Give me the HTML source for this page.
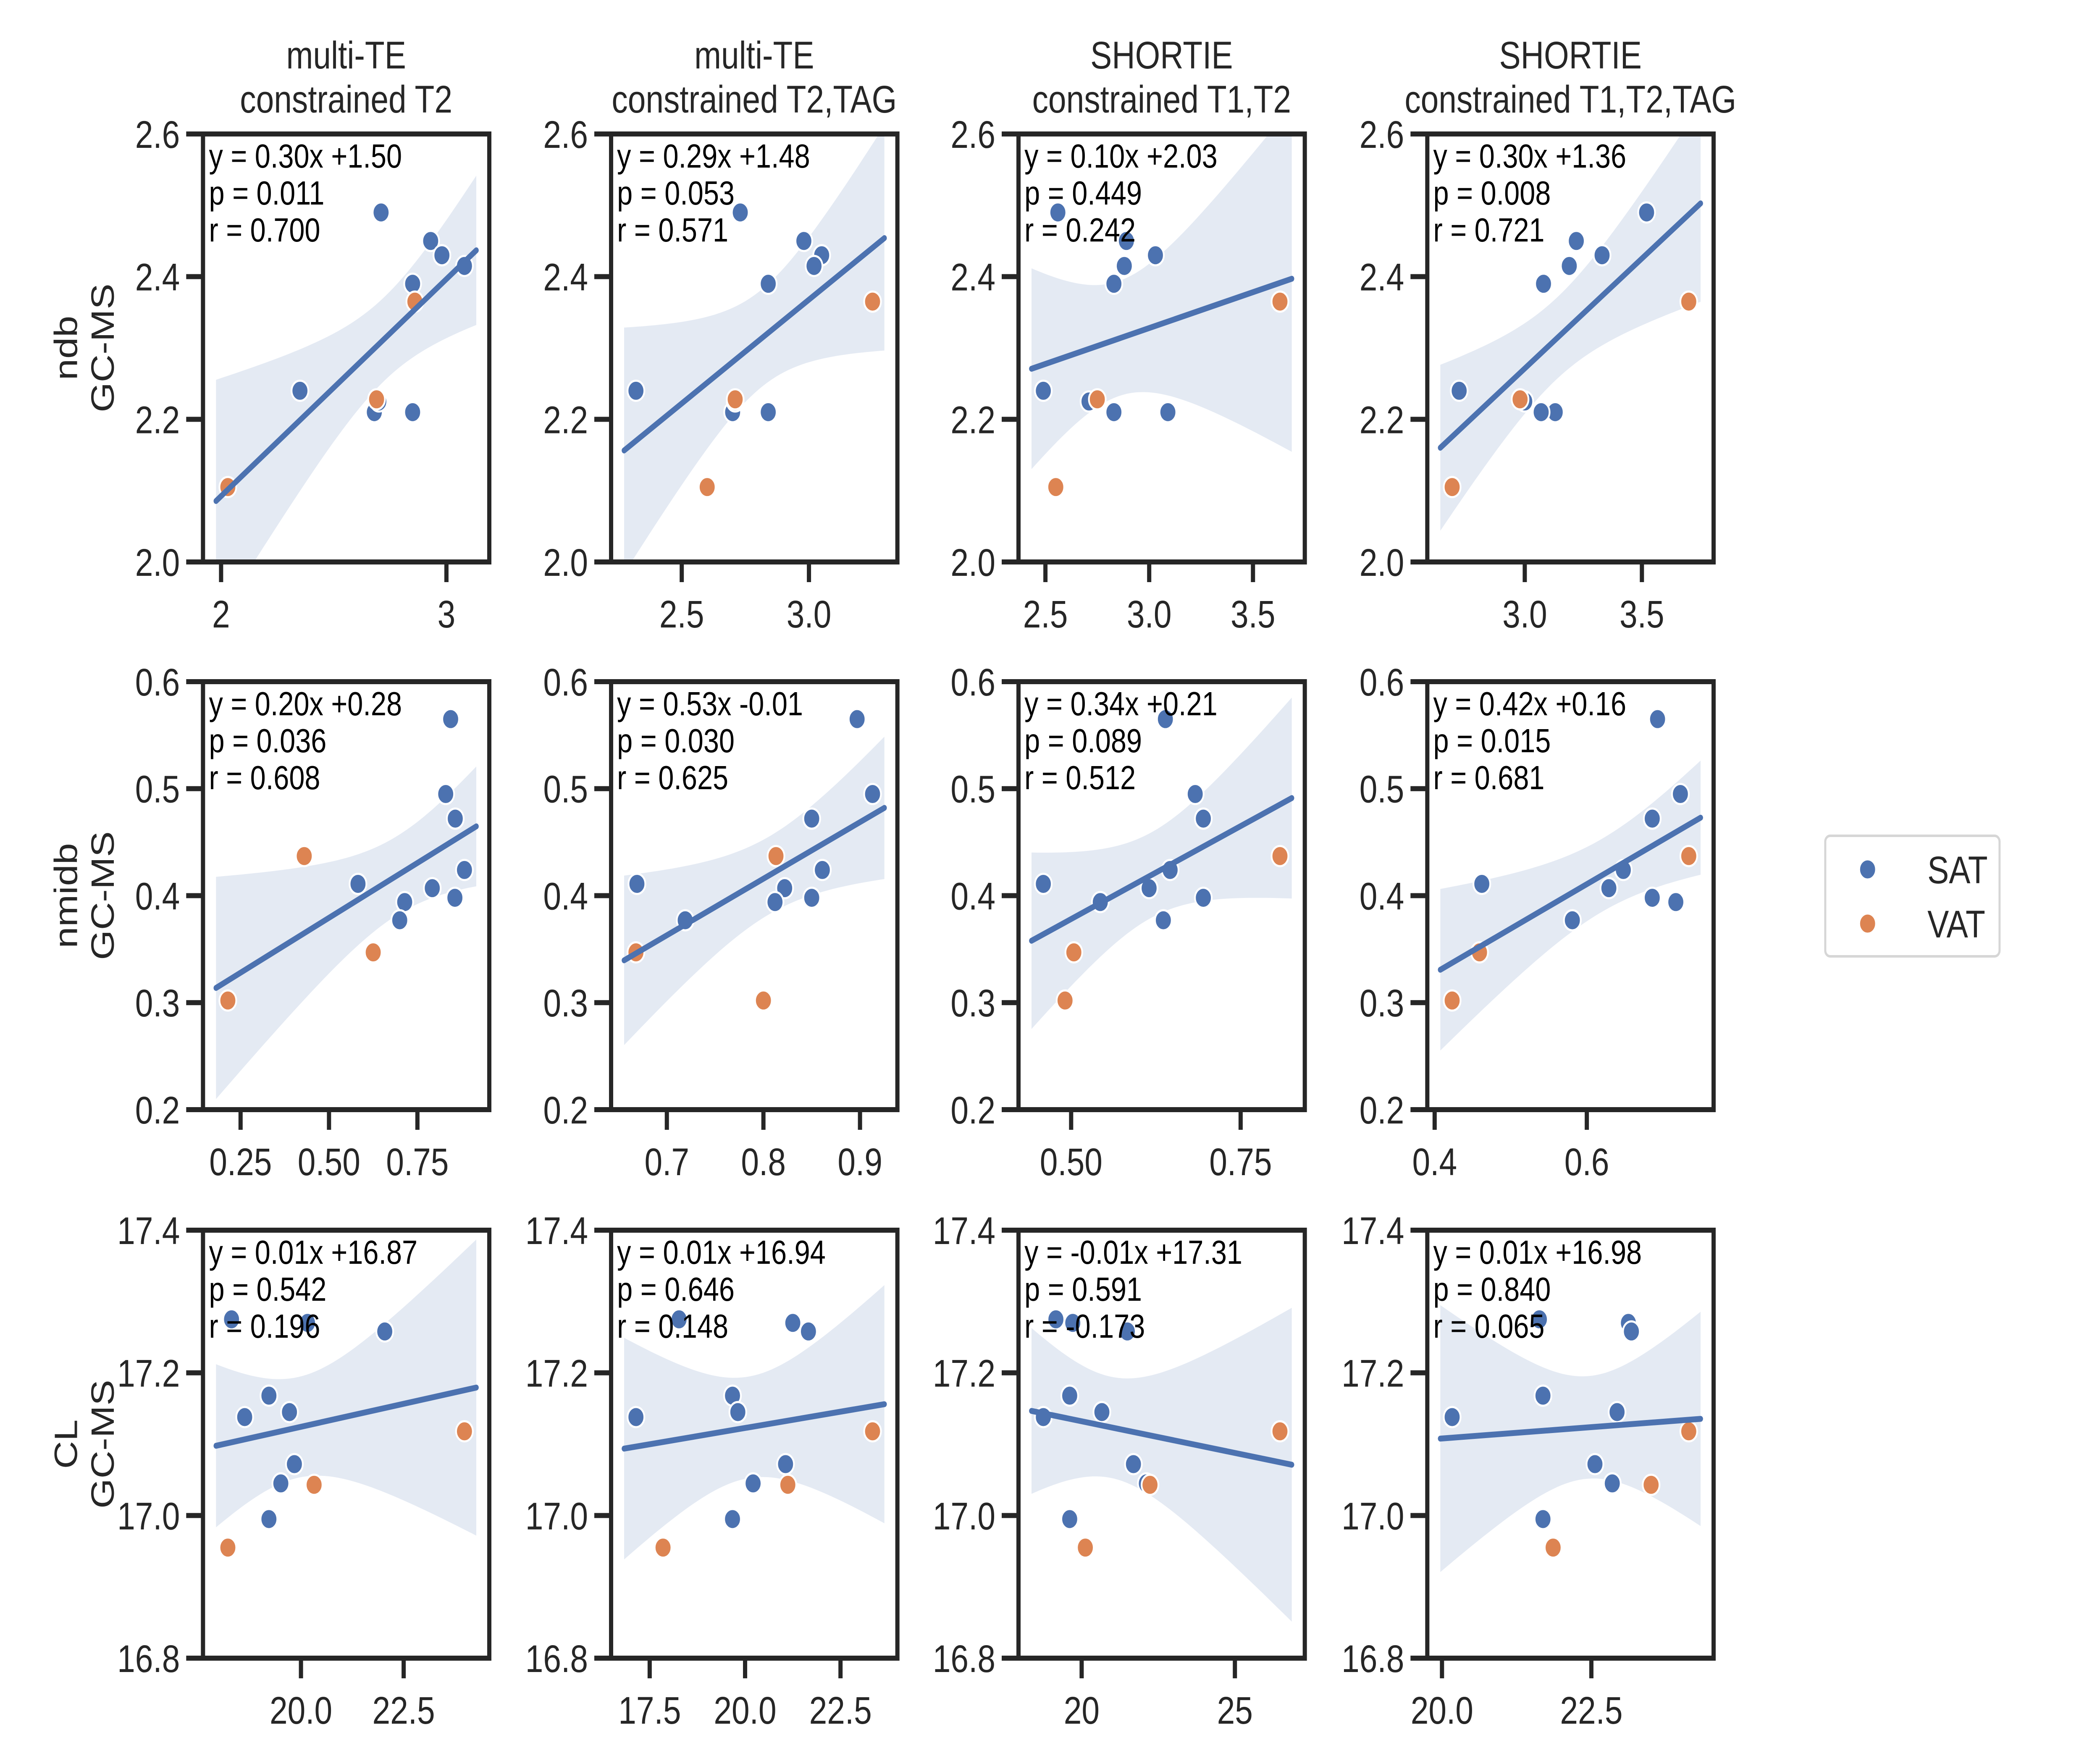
<!DOCTYPE html>
<html><head><meta charset="utf-8"><style>
html,body{margin:0;padding:0;background:#fff;width:100%;height:100%;overflow:hidden;}
svg{display:block;font-family:"Liberation Sans",sans-serif;width:100vw;height:100vh;}
</style></head><body>
<svg id="fig" viewBox="0 0 6000 4200" preserveAspectRatio="none" xmlns="http://www.w3.org/2000/svg"></svg>
<script>
// ---- data ----
const colTitles1 = ["multi-TE","multi-TE","SHORTIE","SHORTIE"];
const colTitles2 = ["constrained T2","constrained T2,TAG","constrained T1,T2","constrained T1,T2,TAG"];
const rowLabels = ["ndb","nmidb","CL"];
const groups = ["SAT","SAT","SAT","SAT","SAT","SAT","SAT","SAT","SAT","VAT","VAT","VAT"];
const yRow1 = [2.49,2.45,2.43,2.415,2.39,2.24,2.21,2.225,2.21,2.105,2.228,2.365];
const yRow2 = [0.565,0.495,0.472,0.424,0.411,0.407,0.398,0.394,0.377,0.302,0.347,0.437];
const yRow3 = [17.275,17.27,17.258,17.168,17.145,17.138,17.072,17.045,16.995,16.955,17.043,17.118];
const xRow1 = [
  [2.71,2.93,2.98,3.08,2.85,2.35,2.68,2.70,2.85,2.03,2.69,2.86],
  [2.73,2.98,3.05,3.02,2.84,2.32,2.70,2.71,2.84,2.60,2.71,3.25],
  [2.56,2.89,3.03,2.88,2.83,2.49,2.83,2.71,3.09,2.55,2.75,3.63],
  [3.52,3.22,3.33,3.19,3.08,2.72,3.13,3.00,3.07,2.69,2.98,3.70]
];
const xRow2 = [
  [0.844,0.83,0.857,0.883,0.582,0.792,0.856,0.714,0.70,0.214,0.625,0.43],
  [0.897,0.913,0.85,0.861,0.669,0.822,0.85,0.812,0.719,0.80,0.668,0.813],
  [0.639,0.683,0.695,0.646,0.459,0.615,0.695,0.543,0.636,0.491,0.504,0.808],
  [0.693,0.723,0.686,0.648,0.462,0.629,0.686,0.717,0.581,0.423,0.459,0.734]
];
const xRow3 = [
  [18.31,20.16,22.04,19.22,19.72,18.63,19.84,19.51,19.22,18.22,20.32,23.98],
  [18.27,21.25,21.66,19.67,19.81,17.14,21.06,20.21,19.67,17.85,21.12,23.34],
  [19.16,19.71,21.49,19.61,20.66,18.75,21.69,22.11,19.61,20.12,22.23,26.47],
  [21.63,23.12,23.17,21.69,22.93,20.17,22.56,22.85,21.69,21.86,23.50,24.13]
];
const yTicksRow1 = [2.0,2.2,2.4,2.6];
const yTicksRow2 = [0.2,0.3,0.4,0.5,0.6];
const yTicksRow3 = [16.8,17.0,17.2,17.4];
const yTickLabels1 = ["2.0","2.2","2.4","2.6"];
const yTickLabels2 = ["0.2","0.3","0.4","0.5","0.6"];
const yTickLabels3 = ["16.8","17.0","17.2","17.4"];
const xTicksRow1 = [[2,3],[2.5,3.0],[2.5,3.0,3.5],[3.0,3.5]];
const xTickLabelsRow1 = [["2","3"],["2.5","3.0"],["2.5","3.0","3.5"],["3.0","3.5"]];
const xTicksRow2 = [[0.25,0.5,0.75],[0.7,0.8,0.9],[0.5,0.75],[0.4,0.6]];
const xTickLabelsRow2 = [["0.25","0.50","0.75"],["0.7","0.8","0.9"],["0.50","0.75"],["0.4","0.6"]];
const xTicksRow3 = [[20,22.5],[17.5,20,22.5],[20,25],[20,22.5]];
const xTickLabelsRow3 = [["20.0","22.5"],["17.5","20.0","22.5"],["20","25"],["20.0","22.5"]];
const annotRow1 = [["y = 0.30x +1.50","p = 0.011","r = 0.700"],["y = 0.29x +1.48","p = 0.053","r = 0.571"],["y = 0.10x +2.03","p = 0.449","r = 0.242"],["y = 0.30x +1.36","p = 0.008","r = 0.721"]];
const annotRow2 = [["y = 0.20x +0.28","p = 0.036","r = 0.608"],["y = 0.53x -0.01","p = 0.030","r = 0.625"],["y = 0.34x +0.21","p = 0.089","r = 0.512"],["y = 0.42x +0.16","p = 0.015","r = 0.681"]];
const annotRow3 = [["y = 0.01x +16.87","p = 0.542","r = 0.196"],["y = 0.01x +16.94","p = 0.646","r = 0.148"],["y = -0.01x +17.31","p = 0.591","r = -0.173"],["y = 0.01x +16.98","p = 0.840","r = 0.065"]];

// ---- layout ----
const NS = "http://www.w3.org/2000/svg";
const svg = document.getElementById("fig");
const colLeft = [580,1746,2910,4078];
const rowTop = [319,1623,2929];
const PW = 818, PH = 1019;
const BLUE = "#4c72b0", ORANGE = "#dd8452", INK = "#262626";
const rows = [
  {y:yRow1, xs:xRow1, yt:yTicksRow1, ytl:yTickLabels1, xt:xTicksRow1, xtl:xTickLabelsRow1, an:annotRow1},
  {y:yRow2, xs:xRow2, yt:yTicksRow2, ytl:yTickLabels2, xt:xTicksRow2, xtl:xTickLabelsRow2, an:annotRow2},
  {y:yRow3, xs:xRow3, yt:yTicksRow3, ytl:yTickLabels3, xt:xTicksRow3, xtl:xTickLabelsRow3, an:annotRow3}
];
function mk(tag, attrs, parent){
  const e = document.createElementNS(NS, tag);
  for (const k in attrs) e.setAttribute(k, attrs[k]);
  (parent||svg).appendChild(e);
  return e;
}
const defs = mk("defs", {});

for (let c=0;c<4;c++){
  const cx = colLeft[c]+PW/2;
  const t1 = mk("text",{x:cx,y:163,"text-anchor":"middle","font-size":92,fill:INK});
  t1.textContent = colTitles1[c];
  
  
  const t2 = mk("text",{x:cx,y:268,"text-anchor":"middle","font-size":92,fill:INK});
  t2.textContent = colTitles2[c];
  
  
}

for (let r=0;r<3;r++){
  const R = rows[r];
  const top = rowTop[r], bot = top+PH;
  const ymin = R.yt[0], ymax = R.yt[R.yt.length-1];
  const sy = v => bot - (v-ymin)/(ymax-ymin)*PH;
  const cyc = top+PH/2;
  const l1 = mk("text",{x:0,y:0,"text-anchor":"middle","font-size":92,fill:INK,transform:`translate(220,${cyc}) rotate(-90)`});
  l1.textContent = rowLabels[r];
  
  
  const l2 = mk("text",{x:0,y:0,"text-anchor":"middle","font-size":92,fill:INK,transform:`translate(325,${cyc}) rotate(-90)`});
  l2.textContent = "GC-MS";
  
  

  for (let c=0;c<4;c++){
    const left = colLeft[c];
    const xs = R.xs[c], ys = R.y;
    const n = xs.length;
    const dmin = Math.min(...xs), dmax = Math.max(...xs), rg = dmax-dmin;
    const lmin = dmin-0.05*rg, lmax = dmax+0.05*rg;
    const amin = lmin-0.05*(lmax-lmin), amax = lmax+0.05*(lmax-lmin);
    const sx = v => left + (v-amin)/(amax-amin)*PW;
    const g = mk("g",{});
    
    
    const cid = `clip${r}${c}`;
    const cp = mk("clipPath",{id:cid},defs);
    mk("rect",{x:left,y:top,width:PW,height:PH},cp);
    const xb = xs.reduce((a,b)=>a+b,0)/n, yb = ys.reduce((a,b)=>a+b,0)/n;
    let sxx=0,sxy=0; for(let i=0;i<n;i++){sxx+=(xs[i]-xb)**2; sxy+=(xs[i]-xb)*(ys[i]-yb);}
    const b1 = sxy/sxx, b0 = yb-b1*xb;
    let sse=0; for(let i=0;i<n;i++){sse+=(ys[i]-b0-b1*xs[i])**2;}
    const s = Math.sqrt(sse/(n-2)), tq = 2.228;
    const up=[], lo=[];
    for (let k=0;k<=60;k++){
      const xv = lmin+(lmax-lmin)*k/60;
      const yh = b0+b1*xv, h = tq*s*Math.sqrt(1/n+(xv-xb)**2/sxx);
      up.push(`${sx(xv).toFixed(1)},${sy(yh+h).toFixed(1)}`);
      lo.unshift(`${sx(xv).toFixed(1)},${sy(yh-h).toFixed(1)}`);
    }
    const band = mk("polygon",{points:up.concat(lo).join(" "),fill:BLUE,"fill-opacity":0.15,"clip-path":`url(#${cid})`},g);
    
    
    for (let i=0;i<n;i++){
      const p = mk("circle",{cx:sx(xs[i]),cy:sy(ys[i]),r:24,fill:groups[i]==="SAT"?BLUE:ORANGE,stroke:"#fff","stroke-width":5,"clip-path":`url(#${cid})`},g);
      
      
    }
    const ln = mk("line",{x1:sx(lmin),y1:sy(b0+b1*lmin),x2:sx(lmax),y2:sy(b0+b1*lmax),stroke:BLUE,"stroke-width":14,"stroke-linecap":"round","clip-path":`url(#${cid})`},g);
    
    
    const fr = mk("rect",{x:left,y:top,width:PW,height:PH,fill:"none",stroke:INK,"stroke-width":12},g);
    
    
    for (let k=0;k<R.yt.length;k++){
      const yy = sy(R.yt[k]);
      mk("line",{x1:left-48,y1:yy,x2:left,y2:yy,stroke:INK,"stroke-width":12},g);
      const tl = mk("text",{x:left-66,y:yy+33,"text-anchor":"end","font-size":92,fill:INK},g);
      tl.textContent = R.ytl[k];
      
      
    }
    for (let k=0;k<R.xt[c].length;k++){
      const xx = sx(R.xt[c][k]);
      mk("line",{x1:xx,y1:bot,x2:xx,y2:bot+48,stroke:INK,"stroke-width":12},g);
      const tl = mk("text",{x:xx,y:bot+156,"text-anchor":"middle","font-size":92,fill:INK},g);
      tl.textContent = R.xtl[c][k];
      
      
    }
    for (let k=0;k<3;k++){
      const at = mk("text",{x:left+17,y:top+80+k*88,"font-size":80,fill:"#000"},g);
      at.textContent = R.an[c][k];
      
      
    }
  }
}

const lg = mk("g",{});


mk("rect",{x:5215,y:1990,width:498,height:287,rx:14,fill:"#fff",stroke:"#d6d6d6","stroke-width":6},lg);
const legendItems = ["SAT","VAT"], legendColors = [BLUE,ORANGE], legendY = [2070,2199];
for (let i=0;i<2;i++){
  const m = mk("circle",{cx:5336,cy:legendY[i],r:24,fill:legendColors[i],stroke:"#fff","stroke-width":5},lg);
  
  
  const t = mk("text",{x:5507,y:legendY[i]+33,"font-size":92,fill:INK},lg);
  t.textContent = legendItems[i];
  
  
}
</script>
</body></html>
